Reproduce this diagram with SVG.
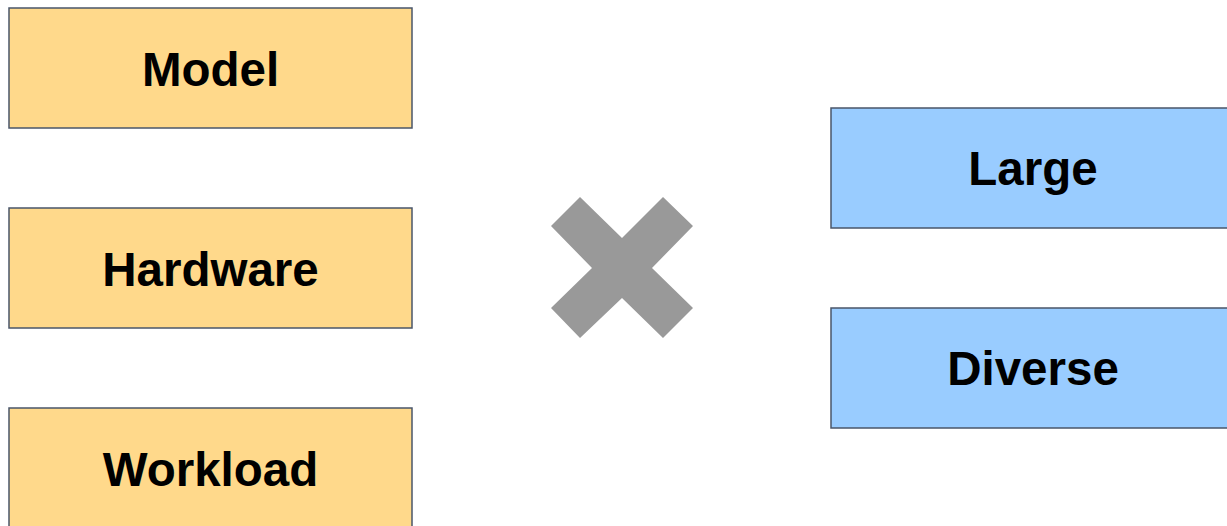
<svg xmlns="http://www.w3.org/2000/svg" width="1227" height="526" viewBox="0 0 1227 526">
  <style>
    .box { stroke: #4a5669; stroke-width: 1.5; }
    .warm { fill: #ffd98b; }
    .cool { fill: #99ccff; }
    .label { font-family: "Liberation Sans", Arial, sans-serif; font-weight: bold; font-size: 47.5px; fill: #000; text-anchor: middle; }
  </style>
  <rect width="1227" height="526" fill="#ffffff"/>

  <!-- left column -->
  <g id="model">
    <rect class="box warm" x="9" y="8" width="403" height="120"/>
    <text class="label" x="210.5" y="86">Model</text>
  </g>
  <g id="hardware">
    <rect class="box warm" x="9" y="208" width="403" height="120"/>
    <text class="label" x="210.5" y="286">Hardware</text>
  </g>
  <g id="workload">
    <rect class="box warm" x="9" y="408" width="403" height="120"/>
    <text class="label" x="210.5" y="486">Workload</text>
  </g>

  <!-- multiplication sign -->
  <g id="times">
    <polygon fill="#999999" points="580,197 622,238 663,197 693,226 652,268 693,308 663,338 622,298 580,338 551,308 592,268 551,226"/>
  </g>

  <!-- right column -->
  <g id="large">
    <rect class="box cool" x="831" y="108" width="404" height="120"/>
    <text class="label" x="1033" y="185">Large</text>
  </g>
  <g id="diverse">
    <rect class="box cool" x="831" y="308" width="404" height="120"/>
    <text class="label" x="1033" y="385">Diverse</text>
  </g>

  <g id="connectors"></g>
</svg>
